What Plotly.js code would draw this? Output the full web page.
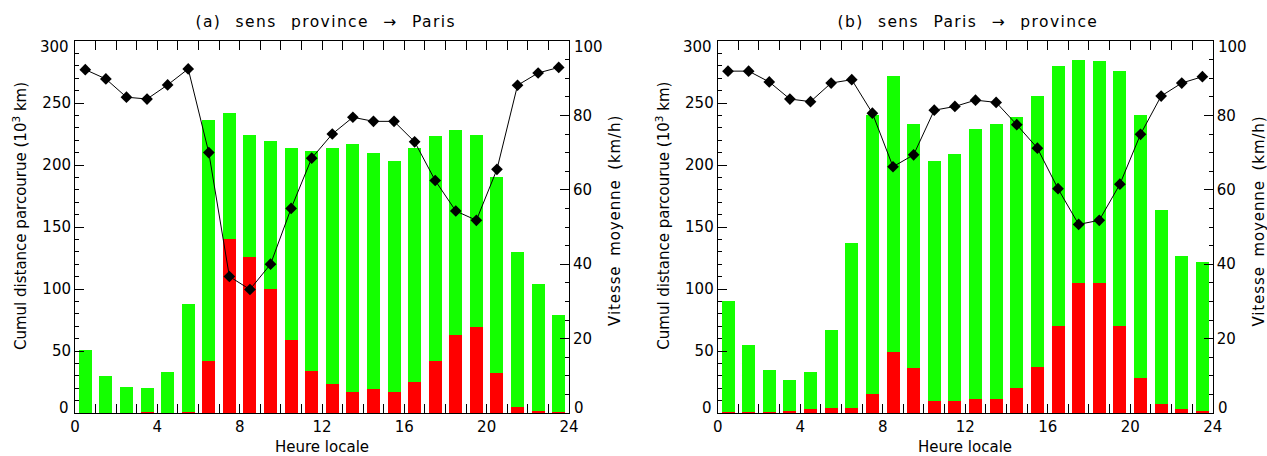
<!DOCTYPE html>
<html>
<head>
<meta charset="utf-8">
<script src="https://cdn.plot.ly/plotly-3.0.1.min.js"></script>
<style>
html,body{margin:0;padding:0;background:#fff;}
#chart{width:1267px;height:456px;}
g.annotation[data-index="0"] text, g.annotation[data-index="1"] text{letter-spacing:1.4px;word-spacing:8px;}
g.annotation[data-index="4"] text, g.annotation[data-index="5"] text{letter-spacing:0.9px;word-spacing:4px;}
</style>
</head>
<body>
<div id="chart"></div>
<script>
// Hour bin centres (local time)
const hours = [0.5,1.5,2.5,3.5,4.5,5.5,6.5,7.5,8.5,9.5,10.5,11.5,12.5,13.5,14.5,15.5,16.5,17.5,18.5,19.5,20.5,21.5,22.5,23.5];

// (a) province -> Paris
const distTotalA = [51,30,21,20,33,88,236,242,224,219,214,211,214,217,210,203,214,223,228,224,190,130,104,79];
const distRedA   = [0,0,0,1,0,1,42,140,126,100,59,34,23,17,19,17,25,42,63,69,32,5,2,1];
const speedA     = [92.3,89.8,84.9,84.4,88.2,92.5,70,36.7,33.2,40,55,68.5,75,79.5,78.4,78.4,72.9,62.5,54.3,51.8,65.5,88.1,91.4,92.9];

// (b) Paris -> province
const distTotalB = [90,55,35,27,33,67,137,240,272,233,203,209,229,233,239,256,280,285,284,276,240,164,127,122];
const distRedB   = [1,1,1,2,3,4,4,15,49,36,10,10,11,11,20,37,70,105,105,70,28,7,3,2];
const speedB     = [91.9,91.9,89,84.4,83.7,88.7,89.6,80.6,66.2,69.4,81.4,82.4,84.1,83.5,77.5,71.2,60.3,50.7,51.8,61.5,74.9,85.2,88.7,90.4];

const xTickVals = [0,4,8,12,16,20,24];
const distTickVals = [0,50,100,150,200,250,300];
const speedTickVals = [0,20,40,60,80,100];
const titles = ['(a) sens province \u2192 Paris', '(b) sens Paris \u2192 province'];

const GREEN = 'rgb(20,255,0)';
const RED = 'rgb(255,0,0)';
const FONT = 'DejaVu Sans, sans-serif';

function panel(total, red, speed, xa, ya, ya2) {
  return [
    {type:'bar', x:hours, y:total, xaxis:xa, yaxis:ya, width:0.63, marker:{color:GREEN, line:{width:0}}, showlegend:false},
    {type:'bar', x:hours, y:red, xaxis:xa, yaxis:ya, width:0.63, marker:{color:RED, line:{width:0}}, showlegend:false},
    {type:'scatter', mode:'lines+markers', x:hours, y:speed, xaxis:xa, yaxis:ya2,
     line:{color:'black', width:1}, marker:{symbol:'diamond', size:9, color:'black'}, showlegend:false}
  ];
}

const data = [].concat(
  panel(distTotalA, distRedA, speedA, 'x', 'y', 'y2'),
  panel(distTotalB, distRedB, speedB, 'x2', 'y3', 'y4')
);

const W = 1267, H = 456;
const yDom = [1 - 413/H, 1 - 41/H];
const xDomA = [75/W, 569/W];
const xDomB = [717.7/W, 1212.7/W];
const tickFont = {family:FONT, size:15, color:'black'};

// inner tick values on the axis; the end labels are drawn shifted inward, as in the reference
const inner = (vals) => vals.slice(1, vals.length - 1);

function xaxis(dom, anchor) {
  return {
    domain: dom, anchor: anchor, range:[0,24], tickvals: xTickVals, ticktext: xTickVals.map(String),
    ticks:'inside', ticklen:9, tickwidth:1, tickcolor:'black',
    minor:{dtick:1, ticks:'inside', ticklen:4, tickcolor:'black'},
    showline:true, linecolor:'black', linewidth:1, mirror:'allticks',
    showgrid:false, zeroline:false, tickfont:tickFont, fixedrange:true
  };
}
function yleft(anchor) {
  const v = inner(distTickVals);
  return {
    domain: yDom, anchor: anchor, range:[0,300], tickvals:v, ticktext: v.map(String),
    ticks:'inside', ticklen:9, tickwidth:1, tickcolor:'black',
    minor:{dtick:10, ticks:'inside', ticklen:4, tickcolor:'black'},
    showline:true, linecolor:'black', linewidth:1, mirror:true,
    showgrid:false, zeroline:false, tickfont:tickFont, fixedrange:true
  };
}
function yright(anchor, over) {
  const v = inner(speedTickVals);
  return {
    domain: yDom, anchor: anchor, overlaying: over, side:'right', range:[0,100], tickvals:v, ticktext: v.map(String),
    ticks:'inside', ticklen:9, tickwidth:1, tickcolor:'black',
    minor:{dtick:5, ticks:'inside', ticklen:4, tickcolor:'black'},
    showline:true, linecolor:'black', linewidth:1,
    showgrid:false, zeroline:false, tickfont:tickFont, fixedrange:true
  };
}

const panels = [xDomA, xDomB];
const annotations = [];
// 0,1: titles
panels.forEach((dom, i) => {
  const cx = (dom[0] + dom[1]) / 2 + 3/W;
  annotations.push({text: titles[i], xref:'paper', yref:'paper', x:cx, y:1 - 22/H, showarrow:false,
    xanchor:'center', yanchor:'middle', font:{family:FONT, size:15.5, color:'black'}});
});
// 2,3: x titles
panels.forEach((dom) => {
  const cx = (dom[0] + dom[1]) / 2;
  annotations.push({text:'Heure locale', xref:'paper', yref:'paper', x:cx, y:1 - 447/H, showarrow:false,
    xanchor:'center', yanchor:'middle', font:{family:FONT, size:15, color:'black'}});
});
// 4,5: right y titles
panels.forEach((dom) => {
  annotations.push({text:'Vitesse moyenne (km/h)', xref:'paper', yref:'paper',
    x:(dom[1]*W + 46)/W, y:1 - 221/H, textangle:-90, showarrow:false,
    xanchor:'center', yanchor:'middle', font:{family:FONT, size:15, color:'black'}});
});
// 6,7: left y titles
panels.forEach((dom) => {
  annotations.push({text:'Cumul distance parcourue (10<sup>3</sup> km)', xref:'paper', yref:'paper',
    x:(dom[0]*W - 55)/W, y:1 - 216/H, textangle:-90, showarrow:false,
    xanchor:'center', yanchor:'middle', font:{family:FONT, size:15, color:'black'}});
});
// shifted end tick labels
panels.forEach((dom) => {
  const l = dom[0]*W, r = dom[1]*W;
  annotations.push({text:String(distTickVals[0]), xref:'paper', yref:'paper', x:(l-4)/W, y:1-408/H, showarrow:false, xanchor:'right', yanchor:'middle', font:tickFont});
  annotations.push({text:String(distTickVals[distTickVals.length-1]), xref:'paper', yref:'paper', x:(l-4)/W, y:1-47/H, showarrow:false, xanchor:'right', yanchor:'middle', font:tickFont});
  annotations.push({text:String(speedTickVals[0]), xref:'paper', yref:'paper', x:(r+3)/W, y:1-408/H, showarrow:false, xanchor:'left', yanchor:'middle', font:tickFont});
  annotations.push({text:String(speedTickVals[speedTickVals.length-1]), xref:'paper', yref:'paper', x:(r+3)/W, y:1-47/H, showarrow:false, xanchor:'left', yanchor:'middle', font:tickFont});
});

const layout = {
  width: W, height: H, margin:{l:0, r:0, t:0, b:0}, paper_bgcolor:'white', plot_bgcolor:'white',
  barmode:'overlay', bargap:0, font:{family:FONT, color:'black'},
  xaxis: xaxis(xDomA, 'y'), yaxis: yleft('x'), yaxis2: yright('x', 'y'),
  xaxis2: xaxis(xDomB, 'y3'), yaxis3: yleft('x2'), yaxis4: yright('x2', 'y3'),
  annotations: annotations
};

Plotly.newPlot('chart', data, layout, {displayModeBar:false, staticPlot:true});
</script>
</body>
</html>
